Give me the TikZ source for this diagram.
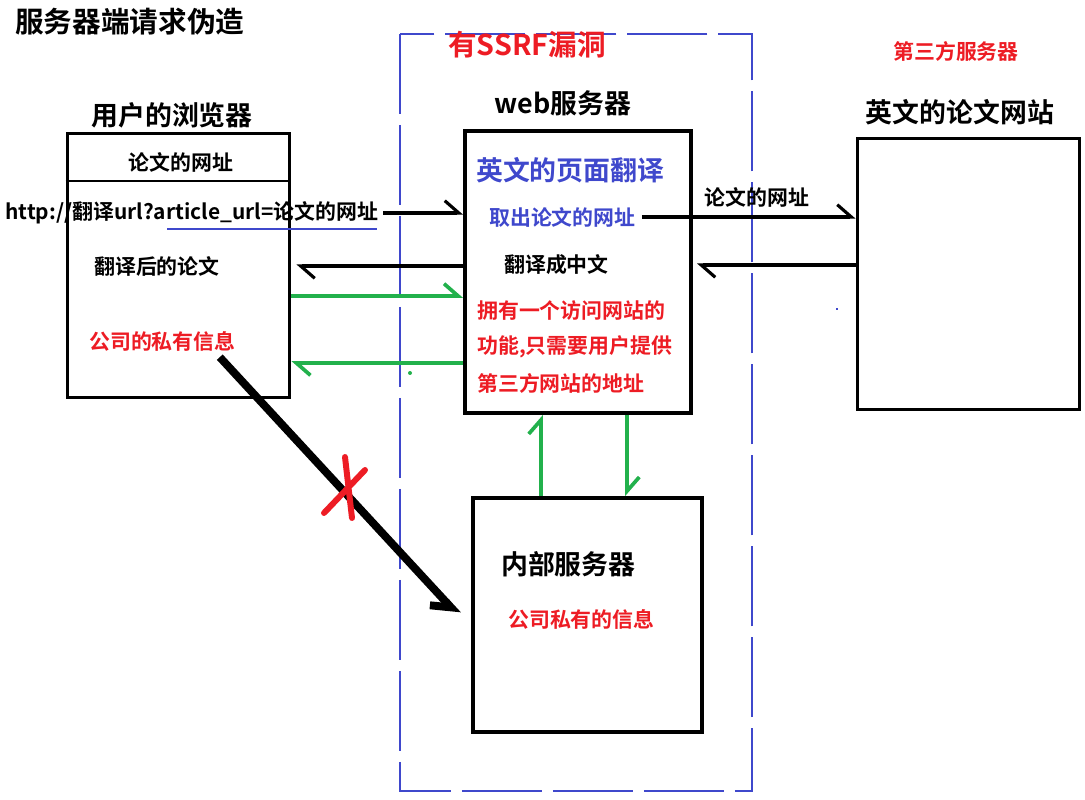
\documentclass[tikz,border=0pt]{standalone}
\usepackage{fontspec}
\setmainfont{Noto Sans CJK SC}[BoldFont={Noto Sans CJK SC Bold}]
\usepackage{tikz}
\usetikzlibrary{calc}
\usetikzlibrary{arrows.meta}
\definecolor{hotred}{RGB}{237,28,36}
\definecolor{inkblue}{RGB}{63,72,204}
\definecolor{flowgreen}{RGB}{34,177,76}

\begin{document}
\begin{tikzpicture}[x=0.02cm,y=-0.02cm,
	>={Straight Barb[left,length=8pt,width=14pt]},
	headtext/.style={font=\bfseries\fontsize{15.3pt}{18pt}\selectfont},
	bodytext/.style={font=\bfseries\fontsize{11.9pt}{14pt}\selectfont},
	box/.style={draw,line width=1.7pt,inner sep=0pt},
	conn/.style={line width=1.8pt},
	flow/.style={flowgreen,line width=2.1pt},
	leak/.style={line width=4.5pt}]
	\useasboundingbox (0,0) rectangle (1085,800);
	\draw[inkblue,line width=0.6pt,dash pattern=on 1.6cm off 0.22cm] (400,34) rectangle (752,791);
	\node[box,minimum width=4.46cm,minimum height=5.3cm] (browser) at (178.5,265.5) {};
	\node[box,line width=2.3pt,minimum width=4.52cm,minimum height=5.64cm] (web) at (578,272) {};
	\node[box,minimum width=4.46cm,minimum height=5.44cm] (third) at (968.5,274) {};
	\node[box,line width=2.3pt,minimum width=4.58cm,minimum height=4.68cm] (inner) at (587.5,615) {};
	\draw[line width=0.6pt] (browser.west |- 0,181) -- (browser.east |- 0,181);
	\node[anchor=west,font=\bfseries\fontsize{16.3pt}{19pt}\selectfont] (title) at (9,22) {服务器端请求伪造};
	\node[headtext] (browserlbl) at (172,115) {用户的浏览器};
	\node[headtext] (webname) at (563,103) {web服务器};
	\node[headtext] (sitelbl) at (960,112) {英文的论文网站};
	\node[bodytext,hotred] (thirdlbl) at (956,51) {第三方服务器};
	\node[hotred,font=\bfseries\fontsize{16.3pt}{19pt}\selectfont] (vuln) at (527,45) {有SSRF漏洞};
	\node[bodytext] (paperurl) at (181,162) {论文的网址};
	\node[bodytext,anchor=west,inner sep=0pt] (url) at (5,213) {http://翻译url?article\_url=论文的网址};
	\draw[inkblue,line width=1.4pt] (167,229) -- (377,229);
	\node[bodytext,anchor=west] (translated) at (88,266) {翻译后的论文};
	\node[bodytext,anchor=west,hotred] (private) at (83,341) {公司的私有信息};
	\node[headtext,anchor=west,inkblue] (entitle) at (470,170) {英文的页面翻译};
	\node[bodytext,anchor=west,inkblue] (fetch) at (483,217) {取出论文的网址};
	\node[bodytext,anchor=west] (tozh) at (498,265) {翻译成中文};
	\node[bodytext,anchor=west,hotred] (r1) at (471,311) {拥有一个访问网站的};
	\node[bodytext,anchor=west,hotred] (r2) at (471,347) {功能,只需要用户提供};
	\node[bodytext,anchor=west,hotred] (r3) at (471,383) {第三方网站的地址};
	\node[bodytext] (urllbl) at (757,197) {论文的网址};
	\node[headtext,anchor=west] (innerlbl) at (495,564) {内部服务器};
	\node[bodytext,anchor=west,hotred] (innerinfo) at (502,619) {公司私有的信息};
	\draw[conn,->] ([xshift=0.1cm]url.east) -- (url.east -| web.west);
	\draw[conn,->] (web.west |- translated) -- ([xshift=0.1cm]browser.east |- translated);
	\draw[flow,->] (browser.east |- 0,296) -- (web.west |- 0,296);
	\draw[flow,->] (web.west |- 0,363) -- (browser.east |- 0,363);
	\draw[conn,->] (fetch.east) -- (fetch.east -| third.west);
	\draw[conn,->] (third.west |- tozh) -- ([xshift=0.08cm]web.east |- tozh);
	\draw[flow,->] ([xshift=-0.93cm]inner.north) -- ([xshift=-0.93cm]inner.north |- web.south);
	\draw[flow,->] ([xshift=0.79cm]inner.north |- web.south) -- ([xshift=0.79cm]inner.north);
	\draw[leak,-{Straight Barb[right,length=9pt,width=16pt]}] ([xshift=-0.44cm]private.south east) -- ([xshift=-0.26cm]inner.west);
	\draw[hotred,line width=3.4pt,line cap=round] (345,457) -- (352,518) (365,470) -- (324,513);
	\fill[flowgreen] (410,373) circle (0.04cm);
	\fill[inkblue] (836,308) rectangle (838,310);
\end{tikzpicture}
\end{document}
